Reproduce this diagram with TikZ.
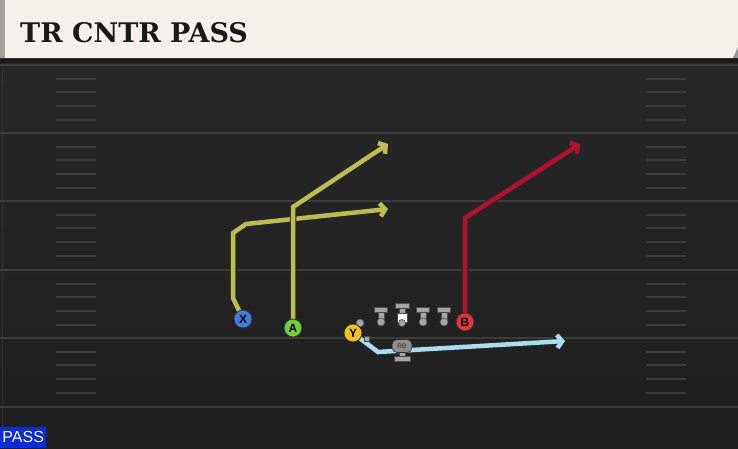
\documentclass[tikz,border=0pt]{standalone}
\usepackage{fontspec}
\usepackage{tikz}
\usetikzlibrary{arrows.meta}
\setmainfont{Liberation Sans}
\newfontfamily\titrefont{DejaVu Serif}
\definecolor{creme}{HTML}{F4F1EA}
\definecolor{terrainhaut}{HTML}{272727}
\definecolor{terrainbas}{HTML}{1F1F1F}
\definecolor{ligneterrain}{HTML}{3B3B3B}
\definecolor{routejaune}{HTML}{BDBD4E}
\definecolor{routerouge}{HTML}{B0102E}
\definecolor{routebleue}{HTML}{A8DDEE}
\definecolor{bleuX}{HTML}{3D7FE0}
\definecolor{vertA}{HTML}{6FD03C}
\definecolor{jauneY}{HTML}{F2C21B}
\definecolor{rougeB}{HTML}{E0353B}
\definecolor{bleupass}{HTML}{0A2BE0}
\definecolor{grisjoueur}{HTML}{A5A5A5}

\tikzset{
  route/.style={draw=#1, line width=4.5pt, line join=miter,
    -{Straight Barb[length=5pt,width=13pt]},
    preaction={draw=black!85, line width=6.5pt, -{Straight Barb[length=5pt,width=14pt]}}},
  joueur/.style={circle, fill=#1, draw=black!80, line width=0.8pt, minimum size=18pt,
    inner sep=0pt, text=black, font=\bfseries\fontsize{12}{12}\selectfont},
  ligneur/.style={fill=grisjoueur, draw=black!70, line width=0.6pt},
}

\begin{document}
\begin{tikzpicture}[x=1pt, y=-1pt]
    \useasboundingbox (0,0) rectangle (738,448);

    % Terrain
    \shade[top color=terrainhaut, bottom color=terrainbas] (0,58) rectangle (738,448);
    \draw[black!80, line width=1pt] (2,63) -- (2,448);

    % Lignes des yards
    \foreach \y in {65,133,201,270,338,407}
        \draw[ligneterrain, line width=2pt] (0,\y) -- (738,\y);

    % Hash marks
    \foreach \y in {65,133,201,270,338} {
        \foreach \d in {14,27,41,55} {
            \draw[ligneterrain, line width=2pt] (56,\y+\d) -- (96,\y+\d);
            \draw[ligneterrain, line width=2pt] (646,\y+\d) -- (686,\y+\d);
        }
    }

    % Bandeau du titre
    \fill[black!90] (0,56) rectangle (738,63);
    \fill[creme] (0,0) -- (738,0) -- (738,47) -- (733,58) -- (0,58) -- cycle;
    \fill[black!40] (733,58) -- (738,47) -- (738,58) -- cycle;
    \fill[black!38] (0,0) rectangle (5,58);
    \node[anchor=base west, inner sep=0pt, text=black!90,
        font=\titrefont\bfseries\fontsize{27}{27}\selectfont] (titre) at (20,42) {TR CNTR PASS};

    % Positions des joueurs
    \coordinate (X) at (243,319);
    \coordinate (A) at (293,328);
    \coordinate (Y) at (353,333);
    \coordinate (B) at (465,322);

    % Tracés
    \coordinate (x1) at (233,298);
    \coordinate (x2) at (233,233);
    \coordinate (x3) at (246,224);
    \coordinate (xfin) at (388,209);
    \draw[route=routejaune] (X) -- (x1) -- (x2) -- (x3) -- (xfin);

    \coordinate (a1) at (293,207);
    \coordinate (afin) at (388,144);
    \draw[route=routejaune] (A) -- (a1) -- (afin);

    \coordinate (b1) at (465,218);
    \coordinate (bfin) at (580,144);
    \draw[route=routerouge] (B) -- (b1) -- (bfin);

    \coordinate (y1) at (378,352);
    \coordinate (yfin) at (565,341);
    \draw[route=routebleue] (Y) -- (y1) -- (yfin);

    % Ligne offensive
    \filldraw[ligneur] (360,323) circle (4);
    \filldraw[ligneur] (364,336) rectangle (369,341);
    \foreach \x in {381,423,444} {
        \filldraw[ligneur] (\x-6.5,307) rectangle (\x+6.5,312);
        \filldraw[ligneur] (\x-3,312) rectangle (\x+3,321);
        \filldraw[ligneur] (\x,322) circle (4);
    }
    \filldraw[ligneur] (395,303) rectangle (409,308);
    \filldraw[ligneur] (399,308) rectangle (405,313);
    \filldraw[fill=white, draw=black!70, line width=0.6pt] (397,313) rectangle (407,322);
    \filldraw[ligneur] (402,323) circle (3.5);

    % Running back
    \filldraw[ligneur] (399,351) rectangle (405,356);
    \filldraw[ligneur] (394,356) rectangle (410,361);
    \node[fill=black!45, draw=black!80, line width=0.6pt, rounded corners=5pt,
        minimum width=20pt, minimum height=13pt, inner sep=0pt, text=black!80,
        font=\fontsize{6.5}{6.5}\selectfont] (rb) at (402,346) {RB};

    % Joueurs
    \node[joueur=bleuX] (pX) at (X) {X};
    \node[joueur=vertA] (pA) at (A) {A};
    \node[joueur=jauneY] (pY) at (Y) {Y};
    \node[joueur=rougeB] (pB) at (B) {B};

    % Etiquette du jeu
    \node[anchor=south west, fill=bleupass, text=white, minimum width=46pt,
        minimum height=21pt, inner sep=0pt, font=\fontsize{16}{16}\selectfont] (jeu) at (0,448) {PASS};
\end{tikzpicture}
\end{document}
